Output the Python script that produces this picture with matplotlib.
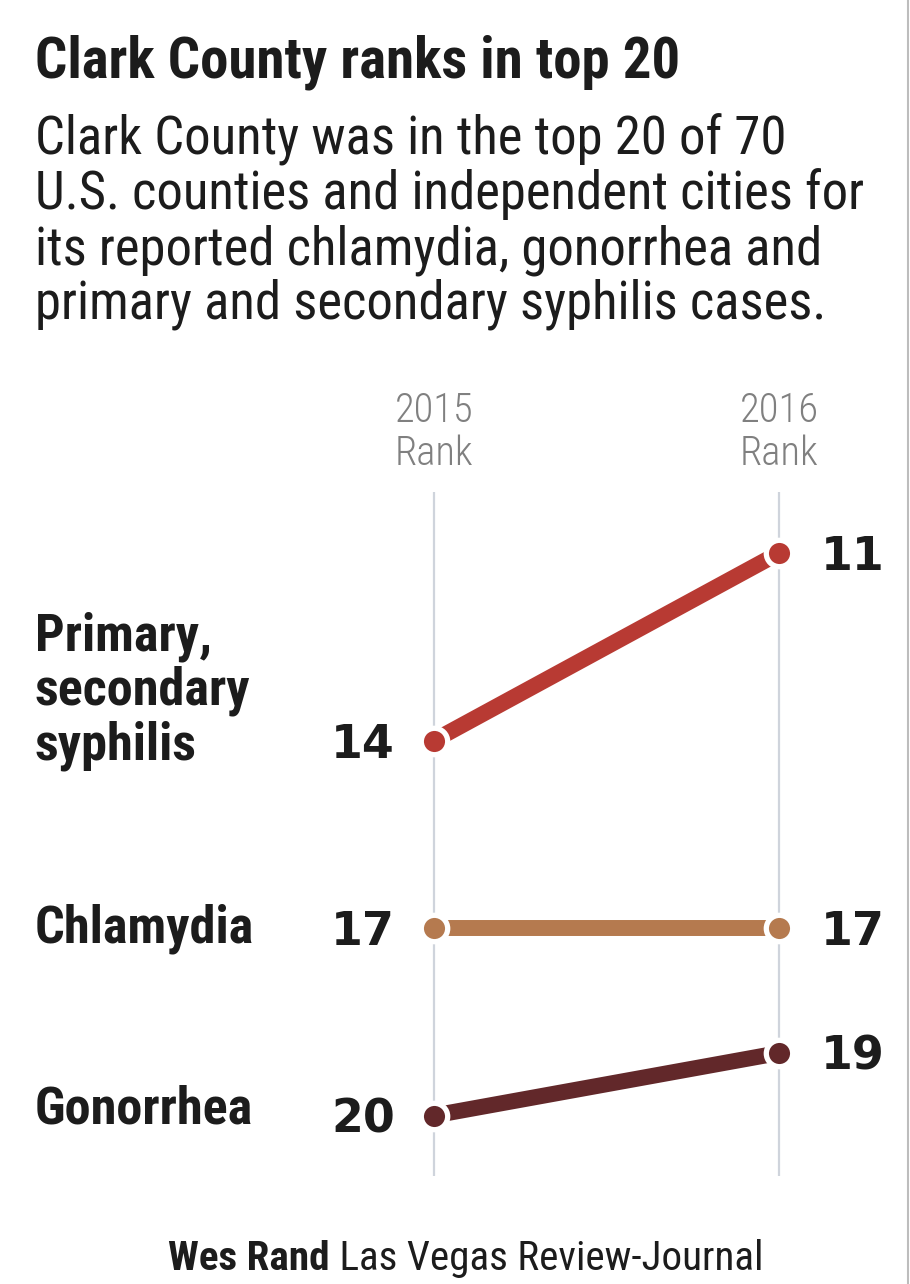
import matplotlib
matplotlib.use('Agg')
import matplotlib.pyplot as plt
from matplotlib import font_manager
from matplotlib.lines import Line2D

# data
years = [2015, 2016]
diseases = ['Primary,\nsecondary\nsyphilis', 'Chlamydia', 'Gonorrhea']
rank_2015 = [14, 17, 20]
rank_2016 = [11, 17, 19]
colors = ['#b83a33', '#b57a4f', '#62282a']

title = 'Clark County ranks in top 20'
subtitle = ['Clark County was in the top 20 of 70',
            'U.S. counties and independent cities for',
            'its reported chlamydia, gonorrhea and',
            'primary and secondary syphilis cases.']

have = {f.name for f in font_manager.fontManager.ttflist}
def pick(*names):
    for n in names:
        if n in have:
            return n
    return 'DejaVu Sans'

cond = pick('Roboto Condensed', 'Liberation Sans Narrow', 'Open Sans Condensed', 'Roboto')
nums = 'DejaVu Sans'

W, H = 910, 1284
fig = plt.figure(figsize=(W/100, H/100), dpi=100)
ax = fig.add_axes([0, 0, 1, 1])
px_year = 345.0   # pixels between the two rank columns
px_rank = 62.5    # pixels per rank step
ax.set_xlim(2015 - 434/px_year, 2015 + (W - 434)/px_year)
ax.set_ylim(11 + (H - 553)/px_rank, 11 - 553/px_rank)
ax.axis('off')

r = fig.canvas.get_renderer()
def fit(t, width):
    w = t.get_window_extent(r).width
    t.set_fontsize(t.get_fontsize() * width / w)

def fx(x):
    return x / W
def fy(y):
    return 1 - y / H

ink = '#1c1c1c'

# header
t = fig.text(fx(35), fy(78), title, family=cond, weight='bold', size=34, color=ink, va='baseline')
fit(t, 645)
sub = []
for i, line in enumerate(subtitle):
    sub.append(fig.text(fx(35), fy(155 + 54.5*i), line, family=cond, size=34, color=ink, va='baseline'))
fit(sub[1], 831)
for s in sub:
    s.set_fontsize(sub[1].get_fontsize())

# column heads
for yr in years:
    a = ax.text(yr, 10.02 - 70/px_rank, str(yr), family=cond, weight='light', size=26,
                color='#808080', ha='center', va='baseline')
    fit(a, 79)
    ax.text(yr, 10.02 - 27/px_rank, 'Rank', family=cond, weight='light', size=a.get_fontsize(),
            color='#808080', ha='center', va='baseline')

# gridlines
ax.vlines(years, 10.02, 20.96, color='#cfd4dc', lw=1.6, zorder=1)

# slope lines + dots
for r15, r16, c in zip(rank_2015, rank_2016, colors):
    ax.plot(years, [r15, r16], color=c, lw=11.5, solid_capstyle='butt', zorder=3)
    ax.plot(years, [r15, r16], 'o', ms=19, mfc=c, mec='white', mew=3.8, zorder=4)
    ax.text(2015 - 39/px_year, r15 + 17/px_rank, str(r15), family=nums, weight='bold',
            size=33, color=ink, ha='right', va='baseline')
    ax.text(2016 + 42/px_year, r16 + 17/px_rank, str(r16), family=nums, weight='bold',
            size=33, color=ink, ha='left', va='baseline')

# category labels (pixel baselines of the first line)
label_base = [650, 943, 1123]
labs = []
for name, yb in zip(diseases, label_base):
    for j, line in enumerate(name.split('\n')):
        labs.append(fig.text(fx(35), fy(yb + 55*j), line, family=cond, weight='bold',
                             size=28, color=ink, va='baseline'))
chl = [l for l in labs if l.get_text() == 'Chlamydia'][0]
fit(chl, 219)
for l in labs:
    l.set_fontsize(chl.get_fontsize())

# footer
f1 = fig.text(fx(168), fy(1270), 'Wes Rand', family=cond, weight='bold', size=22, color=ink, va='baseline')
f2 = fig.text(fx(168), fy(1270), ' Las Vegas Review-Journal', family=cond, size=22, color=ink, va='baseline')
tot = f1.get_window_extent(r).width + f2.get_window_extent(r).width
k = 595 / tot
f1.set_fontsize(22*k)
f2.set_fontsize(22*k)
x2 = 168 + f1.get_window_extent(r).width
f2.set_x(fx(x2))

# right edge rule
fig.add_artist(Line2D([907.5/W]*2, [0, 1], color='#bdbdbd', lw=1.5, transform=fig.transFigure))

fig.savefig('out.png', dpi=100, facecolor='white')
